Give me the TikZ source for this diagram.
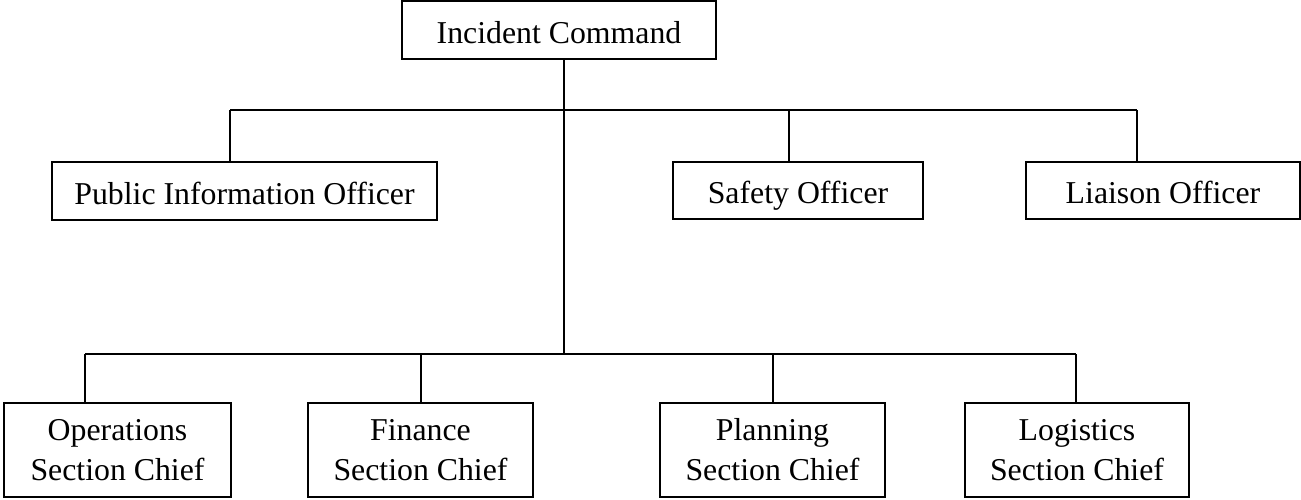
\documentclass[tikz,border=0pt]{standalone}
\usepackage{fontspec}
\setmainfont{Liberation Serif}

\begin{document}
\begin{tikzpicture}
[x=0.5pt,y=-0.5pt,%
  orgBox/.style={shape=rectangle,draw,line width=1pt,inner sep=0pt,align=center,%
    font=\fontsize{15.9}{20}\selectfont},%
  oneLine/.style={text height=14pt,text depth=1pt},%
  twoLine/.style={},%
  orgLine/.style={line width=1pt}]
\useasboundingbox (0,0) rectangle (1301,499);
%% boxes
\foreach \nodename/\x/\y/\w/\h/\lines/\txt in {
  ic/559/30/314/58/oneLine/{Incident Command},
  pio/244.5/191/385/58/oneLine/{Public Information Officer},
  safety/798/190.5/250/57/oneLine/{Safety Officer},
  liaison/1163/190.5/274/57/oneLine/{Liaison Officer},
  ops/117.5/450/227/94/twoLine/{Operations\\Section Chief},
  finance/420.5/450/225/94/twoLine/{Finance\\Section Chief},
  planning/772.5/450/225/94/twoLine/{Planning\\Section Chief},
  logistics/1077/450/224/94/twoLine/{Logistics\\Section Chief}}
{
  \node (\nodename) at (\x,\y) [orgBox,\lines,minimum width=\w*0.5pt,minimum height=\h*0.5pt] {\txt};
}
%% junctions on the bars
\foreach \jname/\x/\y in {jpio/230/110, jsafety/789/110, jliaison/1137/110,
  jtop/564/110, jtrunk/564/354,
  jops/85/354, jfinance/421/354, jplanning/773/354, jlogistics/1076/354}
{
  \coordinate (\jname) at (\x,\y);
}
%% bars
\draw[orgLine] (jpio) -- (jliaison);
\draw[orgLine] (jops) -- (jlogistics);
\draw[orgLine] (ic.south -| jtop) -- (jtrunk);
%% drops to the boxes
\foreach \jname/\endnode in {jpio/pio, jsafety/safety, jliaison/liaison,
  jops/ops, jfinance/finance, jplanning/planning, jlogistics/logistics}
{
  \draw[orgLine] (\jname) -- (\jname |- \endnode.north);
}
\end{tikzpicture}
\end{document}
